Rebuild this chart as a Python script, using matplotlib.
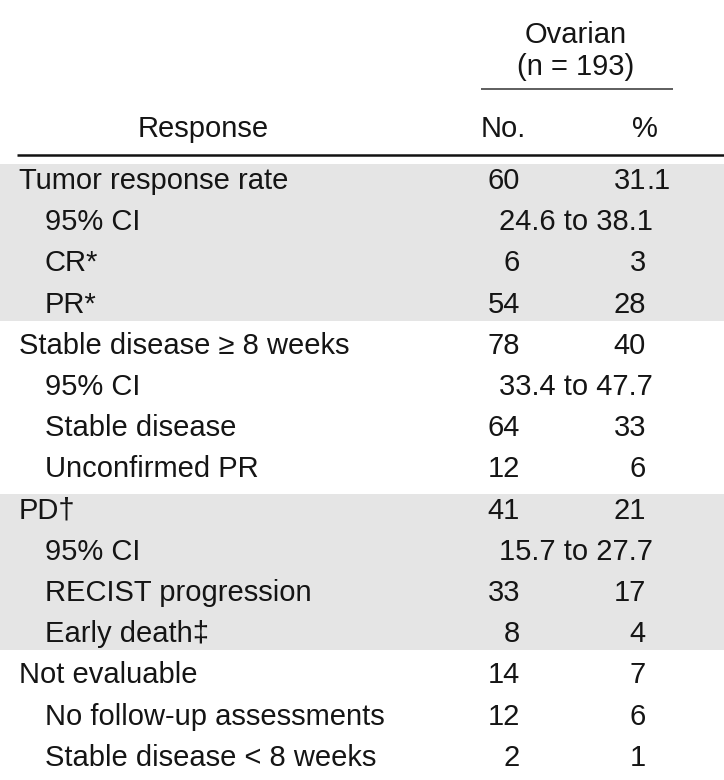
import matplotlib
matplotlib.use("Agg")
import matplotlib.pyplot as plt
from matplotlib.patches import Rectangle

# ---- data ----
labels = ["Tumor response rate", "95% CI", "CR*", "PR*",
          "Stable disease \u2265 8 weeks", "95% CI", "Stable disease", "Unconfirmed PR",
          "PD\u2020", "95% CI", "RECIST progression", "Early death\u2021",
          "Not evaluable", "No follow-up assessments", "Stable disease < 8 weeks"]
indent = [0, 1, 1, 1, 0, 1, 1, 1, 0, 1, 1, 1, 0, 1, 1]
nums = ["60", "", "6", "54", "78", "", "64", "12", "41", "", "33", "8", "14", "12", "2"]
pcts = ["31.1", "", "3", "28", "40", "", "33", "6", "21", "", "17", "4", "7", "6", "1"]
cis = ["", "24.6 to 38.1", "", "", "", "33.4 to 47.7", "", "", "", "15.7 to 27.7",
       "", "", "", "", ""]
shaded_groups = [(0, 3), (8, 11)]
group_title = "Ovarian"
group_n = "(n = 193)"
col_headers = ["Response", "No.", "%"]

# ---- layout ----
W, H = 724, 780
fig = plt.figure(figsize=(W / 100, H / 100), dpi=100)
ax = fig.add_axes([0, 0, 1, 1])
ax.set_xlim(0, W)
ax.set_ylim(H, 0)
ax.axis("off")

FONT = ["Liberation Sans", "DejaVu Sans"]
FS = 21
COL = "#151515"
GREY = "#e5e5e5"

base0 = 189.0
step = 41.2
x_label = 19
x_indent = 45
x_num = 520
x_pct = 646
x_ci = 576

def baseline(i):
    return base0 + i * step

for a, b in shaded_groups:
    top = baseline(a) - 25
    bot = baseline(b) + 8
    ax.add_patch(Rectangle((0, top), W, bot - top, facecolor=GREY, edgecolor="none", zorder=0))

kw = dict(fontsize=FS, family=FONT, color=COL, va="baseline")

# headers
ax.text(x_ci, 43, group_title, ha="center", **kw)
ax.text(x_ci, 75, group_n, ha="center", **kw)
ax.plot([481, 673], [89, 89], color="#333333", lw=1.1, solid_capstyle="butt")
ax.text(203, 137, col_headers[0], ha="center", **kw)
ax.text(503, 137, col_headers[1], ha="center", **kw)
ax.text(645, 137, col_headers[2], ha="center", **kw)
ax.plot([17, W], [155, 155], color="#111111", lw=1.8, solid_capstyle="butt")

for i, lab in enumerate(labels):
    y = baseline(i)
    ax.text(x_indent if indent[i] else x_label, y, lab, ha="left", **kw)
    if nums[i]:
        ax.text(x_num, y, nums[i], ha="right", **kw)
    if pcts[i]:
        if "." in pcts[i]:
            ip, fp = pcts[i].split(".")
            ax.text(x_pct, y, ip, ha="right", **kw)
            ax.text(x_pct, y, "." + fp, ha="left", **kw)
        else:
            ax.text(x_pct, y, pcts[i], ha="right", **kw)
    if cis[i]:
        ax.text(x_ci, y, cis[i], ha="center", **kw)

fig.savefig("out.png", dpi=100)
